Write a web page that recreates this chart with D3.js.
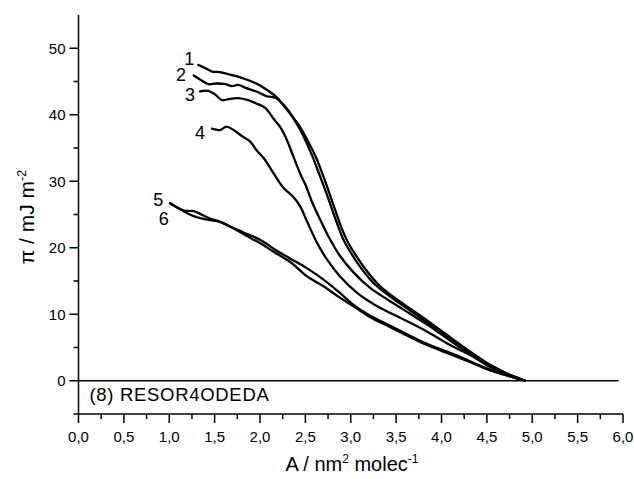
<!DOCTYPE html>
<html>
<head>
<meta charset="utf-8">
<script src="https://cdn.jsdelivr.net/npm/d3@7"></script>
<style>
  html, body { margin: 0; padding: 0; background: #fff; }
  svg text { font-family: "Liberation Sans", Arial, sans-serif; fill: #000; }
</style>
</head>
<body>
<svg id="chart" width="634" height="479"></svg>
<script>
// Surface pressure isotherms, area per molecule (nm^2) vs pi (mJ m^-2)
const curveNames = ["1", "2", "3", "4", "5", "6"];

const area1 = [1.32, 1.40, 1.47, 1.56, 1.65, 1.74, 1.85, 1.96, 2.07, 2.17, 2.24, 2.32, 2.39, 2.46, 2.57, 2.66, 2.75, 2.84, 2.92, 2.99, 3.10, 3.25, 3.43, 3.62, 3.80, 3.98, 4.17, 4.35, 4.53, 4.70, 4.92];
const pi1   = [47.5, 47.0, 46.5, 46.4, 46.1, 45.8, 45.3, 44.7, 43.8, 42.8, 41.8, 40.5, 39.0, 37.3, 34.0, 30.8, 27.5, 24.0, 21.2, 19.5, 17.2, 14.7, 12.7, 10.9, 9.2, 7.4, 5.7, 3.9, 2.4, 1.2, 0];

const area2 = [1.27, 1.34, 1.43, 1.52, 1.62, 1.69, 1.76, 1.85, 1.96, 2.07, 2.18, 2.26, 2.34, 2.43, 2.51, 2.62, 2.71, 2.80, 2.89, 2.97, 3.05, 3.16, 3.31, 3.49, 3.68, 3.86, 4.04, 4.21, 4.39, 4.56, 4.72, 4.92];
const pi2   = [45.9, 45.3, 44.6, 44.7, 44.6, 44.3, 44.5, 44.0, 43.5, 42.8, 42.5, 41.4, 40.0, 38.4, 36.5, 33.5, 30.3, 26.8, 23.3, 20.8, 19.0, 16.8, 14.4, 12.4, 10.6, 8.9, 7.1, 5.4, 3.7, 2.2, 1.1, 0];

const area3 = [1.34, 1.43, 1.51, 1.58, 1.67, 1.76, 1.87, 1.96, 2.06, 2.15, 2.22, 2.29, 2.36, 2.44, 2.50, 2.57, 2.65, 2.75, 2.88, 3.03, 3.21, 3.43, 3.65, 3.87, 4.13, 4.35, 4.53, 4.72, 4.92];
const pi3   = [43.5, 43.6, 43.0, 42.2, 42.4, 42.5, 42.2, 41.7, 41.0, 39.4, 38.2, 36.4, 34.0, 31.2, 29.5, 27.0, 24.6, 21.8, 18.8, 16.3, 14.0, 12.0, 10.1, 8.2, 5.7, 3.7, 2.2, 1.0, 0];

const area4 = [1.47, 1.56, 1.63, 1.71, 1.80, 1.89, 1.96, 2.04, 2.15, 2.26, 2.37, 2.44, 2.52, 2.63, 2.74, 2.88, 3.07, 3.29, 3.51, 3.80, 4.09, 4.35, 4.53, 4.72, 4.92];
const pi4   = [37.9, 37.7, 38.2, 37.7, 36.8, 36.0, 34.7, 33.5, 31.2, 29.0, 27.6, 26.3, 23.9, 20.7, 18.2, 15.7, 13.2, 11.2, 9.7, 7.7, 5.4, 3.6, 2.1, 1.0, 0];

const area5 = [1.01, 1.16, 1.27, 1.34, 1.45, 1.56, 1.67, 1.85, 2.00, 2.15, 2.33, 2.52, 2.70, 2.88, 3.03, 3.21, 3.43, 3.62, 3.80, 3.98, 4.17, 4.35, 4.53, 4.72, 4.92];
const pi5   = [26.7, 25.6, 25.5, 25.1, 24.4, 23.9, 23.2, 21.8, 20.7, 19.4, 17.9, 15.7, 14.2, 12.5, 11.2, 9.6, 8.1, 6.8, 5.6, 4.6, 3.6, 2.6, 1.6, 0.8, 0];

const area6 = [1.01, 1.16, 1.30, 1.43, 1.56, 1.67, 1.82, 2.00, 2.18, 2.33, 2.52, 2.70, 2.88, 3.03, 3.21, 3.43, 3.62, 3.80, 3.98, 4.17, 4.35, 4.53, 4.72, 4.92];
const pi6   = [26.7, 25.5, 24.6, 24.2, 23.9, 23.2, 22.3, 21.2, 19.6, 18.4, 16.9, 15.2, 13.2, 11.4, 9.8, 8.3, 7.0, 5.8, 4.8, 3.8, 2.7, 1.7, 0.8, 0];

// Where each curve number is written: area and pi of the label baseline
const labelArea = [1.22, 1.13, 1.23, 1.34, 0.88, 0.94];
const labelPi   = [47.5, 45.1, 42.1, 36.4, 26.3, 23.4];

const xTicks = [0, 0.5, 1, 1.5, 2, 2.5, 3, 3.5, 4, 4.5, 5, 5.5, 6];
const yTicks = [0, 10, 20, 30, 40, 50];
const annotation = "(8) RESOR4ODEDA";

const areas = [area1, area2, area3, area4, area5, area6];
const pis = [pi1, pi2, pi3, pi4, pi5, pi6];
const series = curveNames.map((name, i) => ({
  name,
  points: areas[i].map((a, j) => [a, pis[i][j]])
}));

const svg = d3.select("#chart");
const x = d3.scaleLinear().domain([0, 6]).range([78.5, 623]);
const y = d3.scaleLinear().domain([-5, 55]).range([414, 15]);

const fmt = d => d3.format(".1f")(d).replace(".", ",");

// Bottom axis: majors every 0.5, minors every 0.25
const xAxis = svg.append("g").attr("transform", `translate(0,${y(-5)})`);
xAxis.append("line").attr("x1", x(0)).attr("x2", x(6)).attr("stroke", "#000").attr("stroke-width", 1.5);
xAxis.selectAll("line.minor").data(d3.range(0.25, 6, 0.5)).join("line")
  .attr("class", "minor").attr("x1", d => x(d)).attr("x2", d => x(d))
  .attr("y1", 0).attr("y2", 5).attr("stroke", "#000").attr("stroke-width", 1.5);
xAxis.selectAll("line.major").data(xTicks).join("line")
  .attr("class", "major").attr("x1", d => x(d)).attr("x2", d => x(d))
  .attr("y1", 0).attr("y2", 9).attr("stroke", "#000").attr("stroke-width", 1.5);
xAxis.selectAll("text").data(xTicks).join("text")
  .attr("x", d => x(d)).attr("y", 28)
  .attr("text-anchor", "middle").attr("font-size", 15)
  .text(fmt);

// Left axis: majors every 10, minors every 5
const yAxis = svg.append("g").attr("transform", `translate(${x(0)},0)`);
yAxis.append("line").attr("y1", y(-5)).attr("y2", y(55)).attr("stroke", "#000").attr("stroke-width", 1.5);
yAxis.selectAll("line.minor").data([-5, 5, 15, 25, 35, 45]).join("line")
  .attr("class", "minor").attr("y1", d => y(d)).attr("y2", d => y(d))
  .attr("x1", 0).attr("x2", -5).attr("stroke", "#000").attr("stroke-width", 1.5);
yAxis.selectAll("line.major").data(yTicks).join("line")
  .attr("class", "major").attr("y1", d => y(d)).attr("y2", d => y(d))
  .attr("x1", 0).attr("x2", -9).attr("stroke", "#000").attr("stroke-width", 1.5);
yAxis.selectAll("text").data(yTicks).join("text")
  .attr("x", -13).attr("y", d => y(d) + 5.5)
  .attr("text-anchor", "end").attr("font-size", 15)
  .text(d => d);

// Zero-pressure reference line
svg.append("line")
  .attr("x1", x(0)).attr("x2", x(5.95)).attr("y1", y(0)).attr("y2", y(0))
  .attr("stroke", "#000").attr("stroke-width", 1.6);

// Isotherm curves
const line = d3.line().x(d => x(d[0])).y(d => y(d[1])).curve(d3.curveCatmullRom.alpha(0.5));
svg.append("g").selectAll("path").data(series).join("path")
  .attr("d", d => line(d.points))
  .attr("fill", "none").attr("stroke", "#000")
  .attr("stroke-width", 2.3).attr("stroke-linejoin", "round").attr("stroke-linecap", "round");

// Curve numbers
svg.append("g").selectAll("text").data(series).join("text")
  .attr("x", (d, i) => x(labelArea[i]))
  .attr("y", (d, i) => y(labelPi[i]))
  .attr("text-anchor", "middle").attr("font-size", 18)
  .text(d => d.name);

// Sample name
svg.append("text").attr("x", x(0.12)).attr("y", y(-3.0))
  .attr("font-size", 18.5).attr("letter-spacing", 0.7).text(annotation);

// Axis titles
const xt = svg.append("text").attr("x", 352).attr("y", 471)
  .attr("text-anchor", "middle").attr("font-size", 20);
xt.append("tspan").text("A / nm");
xt.append("tspan").attr("font-size", 12).attr("dy", -8).text("2");
xt.append("tspan").attr("dy", 8).text(" molec");
xt.append("tspan").attr("font-size", 12).attr("dy", -8).text("-1");

const yt = svg.append("text").attr("transform", "translate(34,217) rotate(-90)")
  .attr("text-anchor", "middle").attr("font-size", 21);
yt.append("tspan").text("π / mJ m");
yt.append("tspan").attr("font-size", 12.5).attr("dy", -8.5).text("-2");
</script>
</body>
</html>
